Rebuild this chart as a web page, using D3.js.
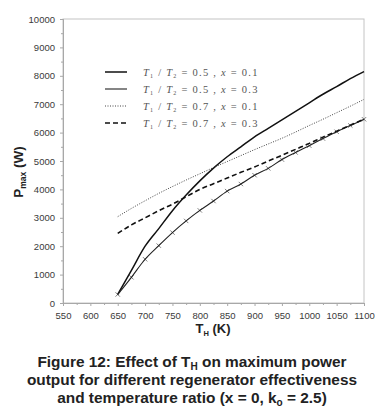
<!DOCTYPE html>
<html>
<head>
<meta charset="utf-8">
<script src="https://cdn.jsdelivr.net/npm/d3@7"></script>
<style>
body { margin: 0; background: #fff; }
svg { display: block; }
</style>
</head>
<body>
<svg id="chart" width="385" height="417"></svg>
<script>
// temperatures (K)
var thValues = [650, 675, 700, 725, 750, 775, 800, 825, 850, 875, 900, 925, 950, 975, 1000, 1025, 1050, 1075, 1100]
// Pmax (W) for each curve
var pA = [300, 1150, 2000, 2620, 3250, 3800, 4300, 4750, 5150, 5500, 5850, 6150, 6450, 6750, 7050, 7350, 7620, 7900, 8150]
var pB = [300, 905, 1540, 2020, 2480, 2890, 3260, 3590, 3940, 4190, 4500, 4740, 5050, 5300, 5540, 5790, 6030, 6250, 6470]
var pC = [3040, 3330, 3600, 3860, 4100, 4330, 4550, 4770, 4980, 5190, 5400, 5600, 5800, 6020, 6250, 6470, 6700, 6930, 7170]
var pD = [2450, 2750, 3000, 3250, 3480, 3740, 4000, 4200, 4400, 4600, 4790, 5000, 5200, 5410, 5620, 5840, 6050, 6260, 6470]
var seriesLabels = ["0.5 , x = 0.1", "0.5 , x = 0.3", "0.7 , x = 0.1", "0.7 , x = 0.3"]
var xTicks = [550, 600, 650, 700, 750, 800, 850, 900, 950, 1000, 1050, 1100]
var yTicks = [0, 1000, 2000, 3000, 4000, 5000, 6000, 7000, 8000, 9000, 10000]

var svg = d3.select('#chart')
var plotLeft = 63, plotRight = 364, plotTop = 19, plotBottom = 303

var x = d3.scaleLinear().domain([550, 1100]).range([plotLeft, plotRight])
var y = d3.scaleLinear().domain([0, 10000]).range([plotBottom, plotTop])

// frame
svg.append('rect')
    .attr('x', plotLeft).attr('y', plotTop)
    .attr('width', plotRight - plotLeft).attr('height', plotBottom - plotTop)
    .attr('fill', 'none')
    .attr('stroke', '#c4c4c4')
    .attr('stroke-width', 1)

// axes
svg.append('g')
    .attr('transform', 'translate(0,' + plotBottom + ')')
    .call(d3.axisBottom(x).tickValues(xTicks).tickSize(3).tickPadding(6).tickFormat(d3.format('d')))
svg.append('g')
    .attr('transform', 'translate(0,' + plotBottom + ')')
    .call(d3.axisBottom(x).tickValues(d3.range(575, 1100, 50)).tickSize(2).tickFormat(''))
svg.append('g')
    .attr('transform', 'translate(' + plotLeft + ',0)')
    .call(d3.axisLeft(y).tickValues(yTicks).tickSize(3).tickPadding(5).tickFormat(d3.format('d')))
svg.append('g')
    .attr('transform', 'translate(' + plotLeft + ',0)')
    .call(d3.axisLeft(y).tickValues(d3.range(500, 10000, 1000)).tickSize(2).tickFormat(''))

svg.selectAll('.domain').attr('stroke', '#a8a8a8')
svg.selectAll('.tick line').attr('stroke', '#a8a8a8')
svg.selectAll('.tick text')
    .attr('font-family', 'Arial, "Liberation Sans", sans-serif')
    .attr('font-size', 9.5)
    .attr('fill', '#3a3a3a')

// axis titles
var yTitle = svg.append('text')
    .attr('transform', 'translate(23,172) rotate(-90)')
    .attr('text-anchor', 'middle')
    .attr('font-family', 'Arial, "Liberation Sans", sans-serif')
    .attr('font-weight', 'bold')
    .attr('font-size', 13.5)
    .attr('fill', '#222')
yTitle.append('tspan').text('P')
yTitle.append('tspan').attr('font-size', 8.5).attr('dy', 3).text('max')
yTitle.append('tspan').attr('dy', -3).text(' (W)')

var xTitle = svg.append('text')
    .attr('x', 213).attr('y', 333)
    .attr('text-anchor', 'middle')
    .attr('font-family', 'Arial, "Liberation Sans", sans-serif')
    .attr('font-weight', 'bold')
    .attr('font-size', 13)
    .attr('fill', '#222')
xTitle.append('tspan').text('T')
xTitle.append('tspan').attr('font-size', 7.5).attr('dy', 3).text('H')
xTitle.append('tspan').attr('dy', -3).text(' (K)')

// curves
var line = d3.line()
    .x(function(d, i) { return x(thValues[i]) })
    .y(function(d) { return y(d) })
    .curve(d3.curveMonotoneX)

var styles = [
    {w: 1.5, dash: null, color: '#111'},
    {w: 1.1, dash: null, color: '#222'},
    {w: 1, dash: '1,1.5', color: '#444'},
    {w: 1.6, dash: '5,3', color: '#111'}
]
var allSeries = [pA, pB, pC, pD]

svg.append('g').selectAll('path')
    .data(allSeries)
    .enter()
    .append('path')
    .attr('d', line)
    .attr('fill', 'none')
    .attr('stroke', function(d, i) { return styles[i].color })
    .attr('stroke-width', function(d, i) { return styles[i].w })
    .attr('stroke-dasharray', function(d, i) { return styles[i].dash })

// star markers on the x = 0.3 curve
var star = d3.symbol().type(d3.symbolTimes).size(14)
svg.append('g').selectAll('path')
    .data(pB)
    .enter()
    .append('path')
    .attr('d', star)
    .attr('transform', function(d, i) { return 'translate(' + x(thValues[i]) + ',' + y(d) + ')' })
    .attr('fill', '#222')
    .attr('stroke', '#222')
    .attr('stroke-width', 0.6)

// legend
var rows = svg.append('g').selectAll('g')
    .data(seriesLabels)
    .enter()
    .append('g')
    .attr('transform', function(d, i) { return 'translate(0,' + (72 + i * 17) + ')' })

rows.append('line')
    .attr('x1', 105).attr('x2', 127)
    .attr('stroke', function(d, i) { return styles[i].color })
    .attr('stroke-width', function(d, i) { return styles[i].w })
    .attr('stroke-dasharray', function(d, i) { return styles[i].dash })

rows.filter(function(d, i) { return i == 1 })
    .append('path')
    .attr('d', d3.symbol().type(d3.symbolTimes).size(10))
    .attr('transform', 'translate(116,0)')
    .attr('fill', '#888')

var lt = rows.append('text')
    .attr('x', 143).attr('y', 4)
    .attr('font-family', '"Liberation Serif", "Times New Roman", serif')
    .attr('font-size', 10.5)
    .attr('fill', '#555')
    .attr('letter-spacing', 1.25)
    .attr('xml:space', 'preserve')
lt.append('tspan').attr('font-style', 'italic').text('T')
lt.append('tspan').attr('font-size', 6).attr('dy', 2).text('1')
lt.append('tspan').attr('dy', -2).text(' / ')
lt.append('tspan').attr('font-style', 'italic').text('T')
lt.append('tspan').attr('font-size', 6).attr('dy', 2).text('2')
lt.append('tspan').attr('dy', -2).text(' = ')
lt.append('tspan').text(function(d) { return d.split(' , ')[0] + ' , ' })
lt.append('tspan').attr('font-style', 'italic').text('x')
lt.append('tspan').text(function(d) { return ' = ' + d.split('= ')[1] })

// caption
var caption = svg.append('text')
    .attr('text-anchor', 'middle')
    .attr('font-family', 'Arial, "Liberation Sans", sans-serif')
    .attr('font-weight', 'bold')
    .attr('font-size', 15.4)
    .attr('fill', '#222')
var c1 = caption.append('tspan').attr('x', 192).attr('y', 367)
c1.append('tspan').text('Figure 12: Effect of T')
c1.append('tspan').attr('font-size', 10).attr('dy', 3).text('H')
c1.append('tspan').attr('dy', -3).text(' on maximum power')
caption.append('tspan').attr('x', 192).attr('y', 385)
    .text('output for different regenerator effectiveness')
var c3 = caption.append('tspan').attr('x', 192).attr('y', 403)
c3.append('tspan').text('and temperature ratio (x = 0, k')
c3.append('tspan').attr('font-size', 10).attr('dy', 3).text('o')
c3.append('tspan').attr('dy', -3).text(' = 2.5)')
</script>
</body>
</html>
